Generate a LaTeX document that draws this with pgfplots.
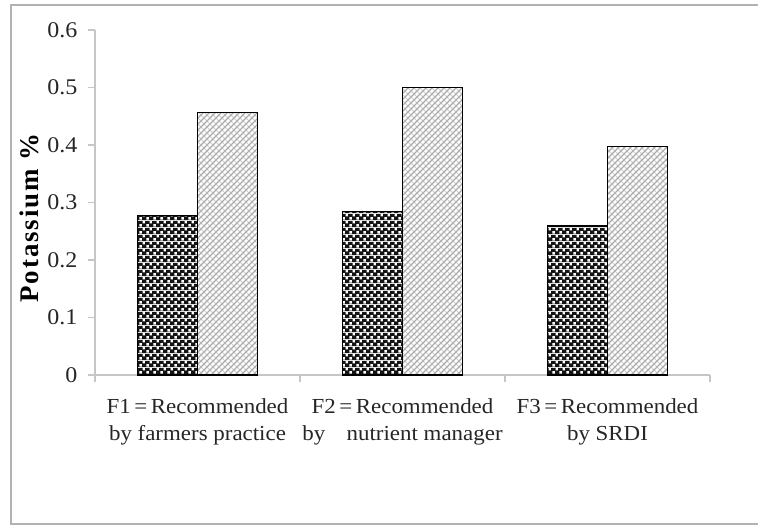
\documentclass[border=0pt]{standalone}
\usepackage{fontspec}
\setmainfont{Liberation Serif}[FakeStretch=1.07]
\newfontfamily\spacedfont{Liberation Serif}[LetterSpace=7]
\usepackage{pgfplots}
\pgfplotsset{compat=1.18}
\usetikzlibrary{patterns}

\pgfdeclarepatterninherentlycolored{darkcheck}{\pgfpointorigin}{\pgfpoint{6.6bp}{6.6bp}}{\pgfpoint{6.6bp}{6.6bp}}{%
  \pgfsetfillcolor{black!92}%
  \pgfpathrectangle{\pgfpointorigin}{\pgfpoint{6.6bp}{6.6bp}}\pgfusepath{fill}%
  \pgfsetfillcolor{white}%
  \pgfpathrectangle{\pgfpoint{0.5bp}{0.5bp}}{\pgfpoint{2.5bp}{2.5bp}}%
  \pgfpathrectangle{\pgfpoint{3.8bp}{3.8bp}}{\pgfpoint{2.5bp}{2.5bp}}%
  \pgfusepath{fill}%
}
\pgfdeclarepatterninherentlycolored{lighthatch}{\pgfpoint{-1bp}{-1bp}}{\pgfpoint{7bp}{7bp}}{\pgfpoint{6bp}{6bp}}{%
  \pgfsetfillcolor{white}%
  \pgfpathrectangle{\pgfpointorigin}{\pgfpoint{6bp}{6bp}}\pgfusepath{fill}%
  \pgfsetstrokecolor{gray!40}\pgfsetlinewidth{0.8bp}%
  \pgfpathmoveto{\pgfpoint{0bp}{6bp}}\pgfpathlineto{\pgfpoint{6bp}{0bp}}\pgfusepath{stroke}%
  \pgfsetstrokecolor{gray!65}\pgfsetlinewidth{1.3bp}%
  \pgfpathmoveto{\pgfpoint{-1bp}{-1bp}}\pgfpathlineto{\pgfpoint{7bp}{7bp}}\pgfusepath{stroke}%
}

\begin{document}
\begin{tikzpicture}
\useasboundingbox (-95bp,-151bp) rectangle (663bp,375bp);
\fill[white] (-95bp,-151bp) rectangle (663bp,375bp);
\draw[gray!60, line width=1.6bp] (663bp,370bp) -- (-84bp,370bp) -- (-84bp,-149bp) -- (663bp,-149bp);
\begin{axis}[
  at={(0,0)}, anchor=south west,
  scale only axis, width=615bp, height=345bp,
  ybar=0pt, bar width=60bp,
  xmin=-0.5, xmax=2.5, ymin=0, ymax=0.6,
  ytick={0,0.1,...,0.6},
  yticklabel style={/pgf/number format/fixed, /pgf/number format/precision=1},
  /pgf/number format/assume math mode=true,
  axis lines*=left,
  axis line style={gray!45, line width=1.2bp},
  tick style={gray!45, line width=1.2bp},
  tick align=outside, major tick length=7bp,
  xtick={-0.5,0.5,1.5,2.5}, xticklabels={},
  extra x ticks={0,1,2},
  extra x tick labels={{F1\,=\,Recommended\\by farmers practice},{F2\,=\,Recommended\\by\hspace{1.0em}nutrient manager},{F3\,=\,Recommended\\by SRDI}},
  extra x tick style={major tick length=0pt, xticklabel style={align=center, font=\fontsize{21.5}{27}\selectfont, text=black!85, yshift=-20bp}},
  yticklabel style={font=\fontsize{22.5}{24}\selectfont, text=black!85, xshift=-7bp},
  ylabel={\spacedfont\bfseries Potassium \%},
  ylabel style={font=\fontsize{27}{30}\selectfont, text=black, at={(axis description cs:-0.107,0.455)}, anchor=center, rotate=0},
]
\addplot[draw=black, line width=1.3bp, pattern=darkcheck] coordinates {(0,0.278) (1,0.284) (2,0.259)};
\addplot[draw=black, line width=1.3bp, pattern=lighthatch] coordinates {(0,0.457) (1,0.500) (2,0.397)};
\end{axis}
\end{tikzpicture}
\end{document}
